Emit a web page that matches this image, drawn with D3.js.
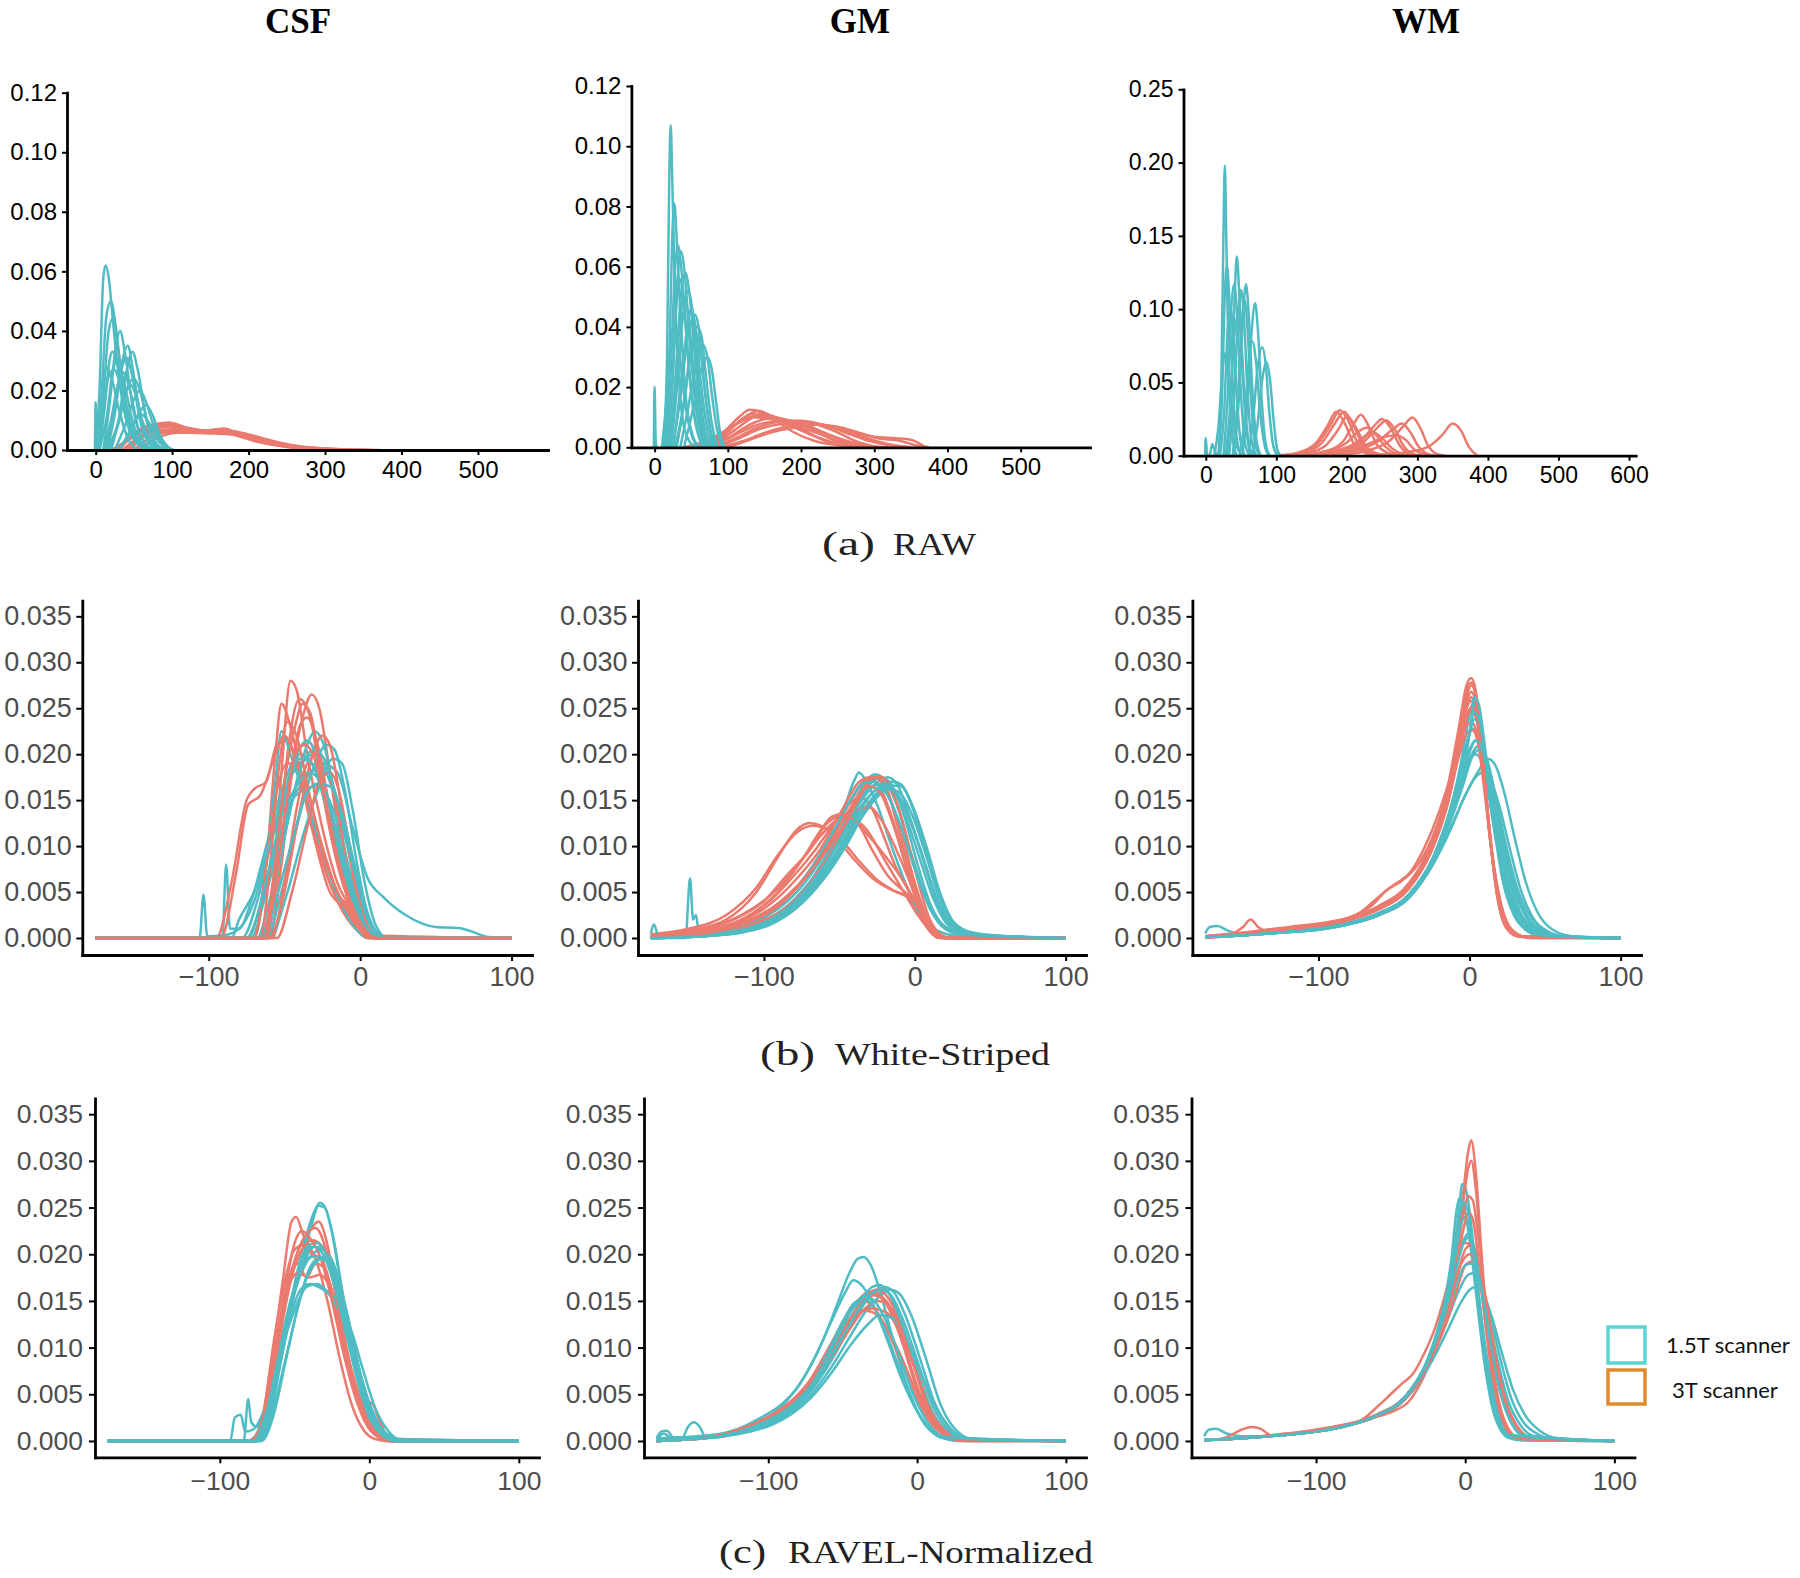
<!DOCTYPE html>
<html><head><meta charset="utf-8">
<script src="https://cdn.jsdelivr.net/npm/d3@7"></script>
<style>
html,body{margin:0;padding:0;background:#fff;}
svg{display:block;}
</style>
</head><body>
<svg id="chart" width="1800" height="1578"></svg>
<script>
// ---------------- DATA ----------------
const tissueTitles = ["CSF", "GM", "WM"];
const captionTags = ["(a)", "(b)", "(c)"];
const captionNames = ["RAW", "White-Striped", "RAVEL-Normalized"];
const legendLabels = ["1.5T scanner", "3T scanner"];

const rawXTicks = [0, 100, 200, 300, 400, 500];
const wmRawXTicks = [0, 100, 200, 300, 400, 500, 600];
const rawYTicks = [0, 0.02, 0.04, 0.06, 0.08, 0.10, 0.12];
const wmRawYTicks = [0, 0.05, 0.10, 0.15, 0.20, 0.25];
const normXTicks = [-100, 0, 100];
const normYTicks = [0, 0.005, 0.010, 0.015, 0.020, 0.025, 0.030, 0.035];

// (a) RAW — CSF
const csfRaw15T = [
 [[-1,0],[0,0.016],[1.5,0.002],[3,0]],
 [[0,0],[5,0.02],[10,0.058],[13,0.062],[17,0.058],[22,0.045],[30,0.025],[40,0.01],[55,0.002],[70,0]],
 [[2,0],[8,0.02],[14,0.045],[20,0.050],[26,0.042],[35,0.022],[48,0.006],[65,0]],
 [[3,0],[10,0.018],[17,0.04],[22,0.044],[28,0.036],[38,0.018],[52,0.004],[70,0]],
 [[10,0],[18,0.015],[26,0.034],[32,0.040],[38,0.033],[48,0.015],[62,0.003],[75,0]],
 [[15,0],[25,0.012],[35,0.030],[42,0.035],[48,0.028],[58,0.012],[72,0.002],[85,0]],
 [[20,0],[30,0.01],[40,0.026],[48,0.033],[55,0.027],[65,0.012],[78,0.002],[90,0]],
 [[5,0],[12,0.015],[18,0.03],[22,0.033],[30,0.028],[40,0.015],[55,0.003],[70,0]],
 [[5,0],[15,0.012],[22,0.026],[28,0.030],[36,0.024],[48,0.01],[60,0.002],[72,0]],
 [[25,0],[38,0.008],[50,0.017],[58,0.020],[66,0.016],[76,0.008],[88,0.002],[100,0]],
 [[10,0],[20,0.01],[30,0.023],[36,0.026],[44,0.021],[55,0.008],[68,0.001],[80,0]],
 [[30,0],[45,0.006],[58,0.013],[66,0.015],[74,0.012],[84,0.005],[95,0.001],[102,0]],
 [[2,0],[8,0.015],[14,0.028],[20,0.025],[30,0.014],[42,0.004],[55,0]],
 [[15,0],[28,0.008],[38,0.018],[45,0.022],[52,0.019],[62,0.009],[75,0.002],[88,0]],
 [[30,0],[42,0.005],[52,0.010],[60,0.012],[70,0.009],[82,0.003],[95,0]],
 [[12,0],[22,0.01],[32,0.025],[40,0.031],[47,0.026],[58,0.01],[70,0.002],[82,0]],
 [[4,0],[10,0.012],[16,0.024],[24,0.027],[32,0.022],[42,0.01],[56,0.002],[68,0]],
 [[18,0],[30,0.009],[40,0.02],[50,0.024],[58,0.02],[68,0.009],[80,0.002],[92,0]]
];
const csfRaw3T = [
 [[30,0],[50,0.005],[70,0.008],[95,0.0092],[120,0.0075],[145,0.0065],[168,0.0072],[190,0.005],[220,0.0025],[260,0.001],[300,0.0002],[340,0]],
 [[25,0],[45,0.004],[65,0.0075],[90,0.0085],[115,0.007],[140,0.0062],[165,0.0068],[195,0.0048],[230,0.002],[270,0.0008],[320,0]],
 [[35,0],[55,0.004],[75,0.007],[100,0.008],[130,0.0068],[160,0.006],[190,0.0052],[215,0.0035],[245,0.0015],[280,0.0005],[340,0]],
 [[40,0],[60,0.0045],[80,0.0065],[110,0.007],[140,0.0065],[170,0.0058],[200,0.0045],[235,0.002],[270,0.0008],[310,0.0002],[360,0]],
 [[20,0],[40,0.003],[60,0.006],[85,0.0078],[110,0.0072],[135,0.0066],[160,0.0062],[185,0.0048],[210,0.0028],[250,0.001],[300,0]],
 [[45,0],[65,0.005],[90,0.0068],[120,0.0065],[150,0.0062],[175,0.0065],[205,0.0048],[235,0.0025],[265,0.001],[300,0.0004],[360,0]],
 [[50,0],[70,0.004],[95,0.006],[125,0.0058],[155,0.0055],[185,0.005],[215,0.0038],[250,0.0018],[290,0.0006],[370,0]],
 [[30,0],[50,0.0055],[70,0.0082],[95,0.0088],[120,0.0072],[150,0.006],[175,0.0056],[205,0.004],[240,0.0016],[280,0.0005],[330,0]],
 [[55,0],[80,0.004],[105,0.0058],[135,0.006],[165,0.0062],[195,0.0055],[225,0.0035],[260,0.0015],[300,0.0005],[350,0]],
 [[35,0],[55,0.0035],[80,0.006],[105,0.0064],[135,0.006],[160,0.007],[185,0.0055],[215,0.003],[250,0.0012],[290,0.0003],[340,0]],
 [[28,0],[48,0.0048],[68,0.0078],[92,0.0082],[118,0.0068],[148,0.0058],[172,0.006],[200,0.0044],[232,0.0018],[275,0.0005],[330,0]]
];

// (a) RAW — GM
const gmRaw15T = [
 [[-1,0],[0,0.020],[1.5,0.002],[3,0]],
 [[12,0],[17,0.03],[20,0.09],[22,0.107],[24,0.09],[28,0.05],[34,0.02],[42,0.005],[55,0]],
 [[15,0],[20,0.03],[25,0.075],[27,0.081],[30,0.07],[35,0.045],[42,0.018],[52,0.004],[62,0]],
 [[15,0],[22,0.025],[28,0.06],[32,0.067],[37,0.058],[44,0.035],[52,0.014],[62,0.003],[72,0]],
 [[18,0],[25,0.025],[31,0.055],[36,0.065],[41,0.058],[48,0.035],[57,0.012],[67,0.002],[75,0]],
 [[20,0],[28,0.02],[35,0.048],[42,0.058],[48,0.05],[55,0.03],[63,0.01],[72,0]],
 [[22,0],[30,0.018],[38,0.042],[46,0.052],[52,0.045],[59,0.025],[67,0.008],[76,0]],
 [[25,0],[35,0.016],[45,0.036],[55,0.044],[60,0.04],[66,0.025],[74,0.008],[82,0]],
 [[30,0],[40,0.014],[50,0.032],[58,0.040],[64,0.037],[70,0.024],[78,0.008],[86,0]],
 [[35,0],[45,0.012],[56,0.027],[66,0.034],[72,0.030],[78,0.018],[86,0.005],[94,0]],
 [[40,0],[50,0.01],[62,0.024],[72,0.030],[78,0.026],[84,0.015],[90,0.004],[96,0]],
 [[18,0],[24,0.02],[30,0.048],[34,0.056],[40,0.048],[47,0.026],[56,0.008],[66,0]],
 [[20,0],[27,0.018],[34,0.04],[40,0.05],[46,0.044],[53,0.026],[62,0.008],[72,0]],
 [[10,0],[16,0.015],[22,0.035],[27,0.04],[33,0.033],[42,0.014],[52,0.003],[60,0]],
 [[25,0],[33,0.015],[42,0.035],[50,0.046],[56,0.04],[63,0.022],[72,0.006],[80,0]],
 [[28,0],[38,0.012],[48,0.03],[56,0.038],[62,0.034],[68,0.02],[76,0.006],[84,0]]
];
const gmRaw3T = [
 [[60,0],[90,0.004],[115,0.010],[130,0.0125],[145,0.012],[165,0.009],[190,0.005],[220,0.002],[260,0.0005],[300,0]],
 [[65,0],[95,0.004],[120,0.0095],[140,0.012],[160,0.0105],[180,0.0085],[205,0.0055],[235,0.002],[270,0.0005],[300,0]],
 [[70,0],[100,0.004],[125,0.0085],[145,0.011],[165,0.01],[190,0.0085],[215,0.006],[245,0.0025],[280,0.0006],[310,0]],
 [[50,0],[80,0.003],[110,0.0075],[135,0.010],[155,0.0095],[180,0.0085],[210,0.007],[240,0.004],[270,0.0015],[305,0]],
 [[80,0],[110,0.003],[140,0.0065],[170,0.0085],[200,0.0088],[230,0.0075],[260,0.0055],[290,0.003],[320,0.001],[350,0]],
 [[90,0],[120,0.002],[150,0.0048],[180,0.0068],[210,0.0078],[240,0.007],[270,0.005],[300,0.0035],[330,0.003],[350,0.0025],[370,0]],
 [[70,0],[100,0.003],[130,0.0075],[155,0.0095],[180,0.009],[205,0.0075],[230,0.005],[260,0.0022],[290,0.0006],[320,0]],
 [[40,0],[70,0.002],[100,0.006],[125,0.0095],[140,0.0105],[160,0.0095],[185,0.0072],[215,0.004],[250,0.0012],[290,0]],
 [[85,0],[115,0.003],[145,0.0062],[175,0.0078],[205,0.0082],[235,0.0072],[265,0.0045],[295,0.002],[325,0.0005],[350,0]],
 [[100,0],[130,0.0025],[160,0.005],[190,0.0065],[220,0.0075],[250,0.0068],[280,0.0048],[305,0.003],[335,0.0022],[360,0.0005],[375,0]],
 [[60,0],[90,0.0035],[115,0.0085],[132,0.011],[150,0.0108],[175,0.0085],[200,0.0065],[225,0.0045],[255,0.0015],[290,0]],
 [[75,0],[105,0.0035],[135,0.007],[160,0.0085],[185,0.0088],[215,0.008],[245,0.0055],[275,0.002],[305,0]]
];

// (a) RAW — WM
const wmRaw15T = [
 [[-1,0],[0,0.012],[1.5,0.002],[3,0]],
 [[6,0],[9,0.008],[12,0.004],[16,0]],
 [[18,0],[22,0.05],[25,0.15],[27,0.198],[29,0.15],[32,0.07],[37,0.015],[44,0]],
 [[18,0],[23,0.04],[27,0.11],[30,0.13],[33,0.11],[37,0.06],[43,0.015],[50,0]],
 [[25,0],[31,0.04],[36,0.10],[40,0.117],[44,0.1],[49,0.05],[55,0.01],[62,0]],
 [[30,0],[36,0.04],[41,0.11],[44,0.136],[47,0.115],[52,0.06],[58,0.015],[65,0]],
 [[33,0],[40,0.04],[46,0.095],[50,0.113],[54,0.095],[59,0.045],[65,0.01],[72,0]],
 [[40,0],[47,0.04],[53,0.098],[57,0.117],[61,0.095],[66,0.045],[72,0.01],[78,0]],
 [[38,0],[45,0.035],[51,0.09],[55,0.106],[59,0.088],[64,0.04],[70,0.008],[77,0]],
 [[52,0],[59,0.035],[65,0.085],[70,0.104],[74,0.085],[79,0.04],[85,0.008],[91,0]],
 [[48,0],[55,0.025],[61,0.065],[66,0.078],[71,0.065],[77,0.03],[84,0.006],[90,0]],
 [[60,0],[67,0.025],[74,0.062],[80,0.074],[85,0.062],[90,0.03],[96,0.006],[102,0]],
 [[66,0],[73,0.02],[80,0.052],[86,0.064],[91,0.052],[96,0.025],[101,0.005],[106,0]],
 [[20,0],[26,0.03],[31,0.085],[35,0.10],[39,0.085],[44,0.04],[50,0.008],[56,0]],
 [[28,0],[34,0.03],[40,0.08],[45,0.095],[50,0.08],[55,0.04],[61,0.008],[68,0]],
 [[12,0],[18,0.02],[24,0.06],[28,0.07],[32,0.058],[38,0.025],[45,0.005],[52,0]]
];
const wmRaw3T = [
 [[100,0],[130,0.002],[155,0.008],[172,0.02],[185,0.030],[197,0.022],[210,0.008],[225,0.002],[245,0]],
 [[105,0],[135,0.002],[160,0.009],[178,0.022],[190,0.031],[202,0.024],[215,0.009],[232,0.002],[250,0]],
 [[110,0],[140,0.002],[165,0.009],[183,0.022],[196,0.030],[208,0.022],[222,0.008],[240,0.002],[260,0]],
 [[110,0],[145,0.002],[170,0.007],[188,0.018],[200,0.027],[212,0.02],[226,0.007],[245,0.001],[265,0]],
 [[130,0],[170,0.003],[195,0.01],[210,0.022],[220,0.028],[230,0.021],[242,0.008],[258,0.002],[275,0]],
 [[130,0],[170,0.003],[200,0.009],[215,0.016],[228,0.019],[240,0.015],[255,0.006],[272,0.001],[290,0]],
 [[140,0],[180,0.003],[210,0.008],[225,0.013],[237,0.016],[250,0.012],[264,0.005],[280,0.001],[295,0]],
 [[150,0],[190,0.003],[220,0.01],[238,0.02],[250,0.025],[262,0.019],[275,0.007],[290,0.001],[305,0]],
 [[155,0],[195,0.003],[225,0.01],[243,0.019],[256,0.024],[268,0.018],[280,0.007],[295,0.001],[310,0]],
 [[160,0],[200,0.003],[235,0.009],[255,0.013],[270,0.014],[283,0.011],[296,0.004],[310,0.001],[320,0]],
 [[170,0],[210,0.003],[245,0.01],[265,0.018],[278,0.022],[290,0.016],[302,0.006],[315,0.001],[325,0]],
 [[180,0],[225,0.003],[260,0.01],[280,0.02],[293,0.026],[304,0.019],[315,0.007],[328,0.001],[340,0]],
 [[230,0],[280,0.002],[315,0.006],[335,0.014],[350,0.022],[362,0.017],[373,0.006],[385,0]]
];

// (b) White-Striped — CSF
const csfWs15T = [
 [[-175,0],[-106,0],[-103.5,0.0047],[-101,0.0002],[-90,0.0003],[-80,0.001],[-70,0.004],[-60,0.01],[-50,0.016],[-40,0.019],[-30,0.02],[-20,0.017],[-10,0.011],[0,0.004],[10,0.0008],[20,0],[100,0]],
 [[-175,0],[-91,0],[-88.5,0.008],[-86,0.001],[-80,0.001],[-72,0.004],[-62,0.01],[-52,0.016],[-42,0.02],[-35,0.0215],[-27,0.019],[-17,0.012],[-7,0.005],[3,0.001],[12,0],[100,0]],
 [[-175,0],[-75,0],[-65,0.004],[-55,0.01],[-45,0.015],[-35,0.0175],[-25,0.019],[-15,0.018],[-5,0.012],[5,0.0065],[15,0.0045],[30,0.0025],[50,0.0012],[65,0.0011],[72,0.0008],[85,0.0001],[100,0]],
 [[-175,0],[-68,0],[-60,0.004],[-50,0.011],[-42,0.017],[-35,0.021],[-30,0.0225],[-24,0.021],[-16,0.015],[-6,0.006],[4,0.001],[12,0],[100,0]],
 [[-175,0],[-70,0],[-62,0.008],[-56,0.017],[-52,0.0225],[-46,0.02],[-38,0.016],[-28,0.011],[-16,0.005],[-5,0.0015],[5,0],[100,0]],
 [[-175,0],[-62,0],[-52,0.005],[-42,0.012],[-32,0.018],[-22,0.021],[-17,0.0205],[-10,0.016],[-2,0.008],[6,0.002],[15,0],[100,0]],
 [[-175,0],[-72,0],[-62,0.005],[-52,0.011],[-45,0.015],[-38,0.016],[-30,0.0165],[-22,0.0155],[-14,0.012],[-5,0.006],[4,0.0015],[12,0],[100,0]],
 [[-175,0],[-78,0],[-68,0.004],[-58,0.011],[-48,0.017],[-40,0.02],[-32,0.019],[-22,0.014],[-12,0.008],[-2,0.003],[8,0.0005],[15,0],[100,0]],
 [[-175,0],[-60,0],[-48,0.005],[-38,0.011],[-28,0.016],[-18,0.0195],[-12,0.019],[-5,0.014],[3,0.006],[10,0.0015],[18,0],[100,0]],
 [[-175,0],[-85,0],[-80,0.002],[-70,0.005],[-60,0.01],[-50,0.014],[-40,0.017],[-34,0.018],[-26,0.017],[-16,0.012],[-6,0.006],[4,0.0015],[12,0],[100,0]],
 [[-175,0],[-66,0],[-56,0.006],[-46,0.014],[-38,0.019],[-30,0.0205],[-24,0.0195],[-15,0.015],[-5,0.008],[5,0.002],[13,0],[100,0]],
 [[-175,0],[-74,0],[-64,0.005],[-54,0.012],[-46,0.0175],[-40,0.0195],[-33,0.0192],[-25,0.0168],[-15,0.011],[-5,0.0048],[5,0.001],[14,0],[100,0]],
 [[-175,0],[-64,0],[-55,0.0045],[-45,0.0105],[-36,0.0155],[-28,0.0168],[-20,0.0165],[-11,0.013],[-2,0.0068],[7,0.0018],[16,0],[100,0]]
];
const csfWs3T = [
 [[-175,0],[-65,0],[-58,0.005],[-52,0.018],[-46,0.028],[-42,0.027],[-35,0.02],[-25,0.012],[-15,0.006],[-5,0.003],[3,0.0005],[10,0],[100,0]],
 [[-175,0],[-60,0],[-52,0.008],[-45,0.018],[-38,0.024],[-32,0.0265],[-27,0.025],[-20,0.018],[-12,0.009],[-4,0.002],[5,0],[100,0]],
 [[-175,0],[-62,0],[-55,0.008],[-48,0.02],[-40,0.026],[-33,0.024],[-25,0.016],[-15,0.008],[-5,0.003],[5,0.0003],[100,0]],
 [[-175,0],[-70,0],[-62,0.008],[-56,0.02],[-52,0.0255],[-46,0.023],[-38,0.017],[-28,0.01],[-15,0.004],[-3,0.001],[8,0],[100,0]],
 [[-175,0],[-95,0],[-85,0.006],[-75,0.015],[-70,0.0162],[-62,0.017],[-55,0.021],[-48,0.0215],[-40,0.018],[-30,0.012],[-20,0.006],[-8,0.0035],[0,0.0015],[10,0],[100,0]],
 [[-175,0],[-92,0],[-82,0.007],[-74,0.0145],[-66,0.0155],[-58,0.019],[-50,0.022],[-42,0.019],[-32,0.012],[-20,0.005],[-8,0.003],[2,0.001],[10,0],[100,0]],
 [[-175,0],[-62,0],[-55,0.006],[-47,0.016],[-40,0.023],[-35,0.024],[-28,0.021],[-20,0.014],[-10,0.006],[0,0.0015],[8,0],[100,0]],
 [[-175,0],[-58,0],[-50,0.006],[-42,0.014],[-35,0.019],[-28,0.020],[-22,0.019],[-15,0.014],[-7,0.006],[2,0.001],[10,0],[100,0]],
 [[-175,0],[-70,0],[-62,0.008],[-55,0.016],[-48,0.019],[-42,0.019],[-35,0.016],[-25,0.01],[-15,0.005],[-5,0.0025],[5,0],[100,0]],
 [[-175,0],[-60,0],[-50,0.005],[-42,0.012],[-33,0.019],[-25,0.022],[-20,0.021],[-13,0.015],[-5,0.007],[3,0.0015],[12,0],[100,0]],
 [[-175,0],[-55,0],[-45,0.005],[-35,0.012],[-27,0.017],[-20,0.018],[-14,0.016],[-8,0.011],[-1,0.005],[6,0.001],[14,0],[100,0]],
 [[-175,0],[-66,0],[-60,0.007],[-54,0.018],[-48,0.0235],[-42,0.022],[-34,0.016],[-24,0.009],[-12,0.004],[0,0.0008],[8,0],[100,0]],
 [[-175,0],[-64,0],[-57,0.007],[-50,0.017],[-43,0.023],[-38,0.0255],[-33,0.0245],[-26,0.018],[-17,0.01],[-8,0.0042],[1,0.0008],[9,0],[100,0]],
 [[-175,0],[-63,0],[-56,0.006],[-48,0.0155],[-42,0.0205],[-36,0.021],[-30,0.0195],[-22,0.014],[-13,0.0075],[-4,0.003],[5,0.0004],[12,0],[100,0]]
];

// (b) White-Striped — GM
const gmWs15T = [
 [[-175,0],[-152,0],[-149,0.0065],[-147,0.002],[-145,0.0025],[-143,0.0003],[-130,0.0005],[-110,0.0012],[-90,0.0028],[-72,0.0055],[-58,0.0092],[-46,0.0128],[-38,0.0155],[-32,0.0172],[-26,0.0178],[-20,0.0172],[-12,0.0145],[-2,0.009],[8,0.0042],[18,0.0015],[30,0.0006],[50,0.0002],[100,0]],
 [[-175,0.0005],[-173,0.0015],[-170,0.0003],[-150,0.0003],[-125,0.0008],[-105,0.0018],[-88,0.0035],[-72,0.0062],[-58,0.0098],[-48,0.0135],[-40,0.0172],[-37,0.018],[-32,0.017],[-25,0.0145],[-15,0.0098],[-5,0.0055],[5,0.0022],[15,0.0008],[30,0.0002],[100,0]],
 [[-175,0],[-140,0.0003],[-115,0.0009],[-95,0.0022],[-78,0.0045],[-62,0.0078],[-48,0.0115],[-36,0.015],[-26,0.0168],[-18,0.0175],[-12,0.0168],[-4,0.0135],[5,0.0088],[14,0.0042],[22,0.0015],[32,0.0006],[50,0.0002],[100,0]],
 [[-175,0],[-140,0.0002],[-115,0.0007],[-95,0.0018],[-78,0.0038],[-62,0.0068],[-48,0.0102],[-36,0.0135],[-25,0.0158],[-16,0.017],[-10,0.0168],[-2,0.0145],[6,0.0102],[15,0.005],[24,0.0018],[35,0.0006],[55,0.0002],[100,0]],
 [[-175,0],[-140,0.0002],[-115,0.0006],[-95,0.0015],[-78,0.0033],[-60,0.0065],[-45,0.0102],[-32,0.014],[-22,0.0162],[-14,0.017],[-8,0.0165],[0,0.0135],[9,0.0085],[18,0.0038],[27,0.0013],[40,0.0004],[60,0.0001],[100,0]],
 [[-175,0],[-140,0.0003],[-112,0.0009],[-92,0.0022],[-75,0.0045],[-60,0.008],[-46,0.0122],[-35,0.0155],[-27,0.0172],[-22,0.0175],[-16,0.0168],[-8,0.0138],[1,0.0085],[10,0.0038],[20,0.0012],[32,0.0004],[100,0]],
 [[-175,0],[-140,0.0002],[-115,0.0008],[-95,0.002],[-78,0.004],[-62,0.0072],[-50,0.0105],[-38,0.0138],[-28,0.0158],[-20,0.0165],[-13,0.016],[-5,0.0135],[4,0.0095],[13,0.005],[22,0.0018],[32,0.0007],[50,0.0002],[100,0]],
 [[-175,0],[-140,0.0002],[-115,0.0007],[-95,0.0017],[-78,0.0036],[-62,0.0066],[-48,0.0102],[-36,0.0135],[-26,0.0155],[-17,0.0162],[-10,0.0158],[-2,0.0135],[7,0.0092],[16,0.0045],[25,0.0016],[36,0.0006],[55,0.0002],[100,0]],
 [[-175,0],[-145,0.0004],[-118,0.0012],[-98,0.0026],[-80,0.0052],[-64,0.0088],[-52,0.0122],[-42,0.0152],[-35,0.0168],[-28,0.017],[-20,0.016],[-10,0.0125],[0,0.0075],[10,0.0032],[20,0.001],[32,0.0003],[100,0]],
 [[-175,0],[-140,0.0003],[-115,0.0009],[-95,0.0021],[-78,0.0042],[-62,0.0074],[-48,0.0112],[-36,0.0148],[-26,0.0166],[-19,0.0168],[-12,0.0158],[-3,0.0128],[6,0.0085],[15,0.004],[24,0.0014],[35,0.0005],[100,0]],
 [[-175,0],[-140,0.0002],[-115,0.0006],[-95,0.0016],[-78,0.0034],[-62,0.0064],[-48,0.0098],[-35,0.0132],[-24,0.0155],[-15,0.0166],[-9,0.0165],[-1,0.0142],[8,0.0098],[17,0.0048],[26,0.0017],[38,0.0006],[60,0.0002],[100,0]],
 [[-175,0],[-140,0.0002],[-115,0.0007],[-95,0.0017],[-78,0.0037],[-62,0.0068],[-48,0.0105],[-36,0.014],[-27,0.016],[-21,0.0166],[-14,0.016],[-6,0.0132],[3,0.0088],[12,0.0044],[21,0.0016],[32,0.0006],[50,0.0002],[100,0]]
];
const gmWs3T = [
 [[-175,0.0003],[-150,0.0008],[-125,0.002],[-105,0.005],[-90,0.009],[-78,0.0118],[-70,0.0125],[-62,0.0122],[-52,0.0108],[-40,0.0085],[-28,0.0065],[-15,0.0052],[-5,0.0045],[2,0.003],[10,0.0008],[18,0],[100,0]],
 [[-175,0.0004],[-150,0.001],[-125,0.0025],[-105,0.0055],[-90,0.0092],[-78,0.0115],[-68,0.0122],[-60,0.012],[-48,0.0105],[-36,0.0082],[-24,0.0062],[-12,0.005],[-3,0.0042],[5,0.002],[12,0.0004],[20,0],[100,0]],
 [[-175,0.0002],[-145,0.0008],[-120,0.002],[-100,0.004],[-85,0.0068],[-70,0.0095],[-58,0.0125],[-50,0.0132],[-42,0.013],[-32,0.0118],[-20,0.0085],[-8,0.0052],[2,0.0025],[12,0.0005],[20,0],[100,0]],
 [[-175,0.0002],[-140,0.0006],[-115,0.0018],[-95,0.0038],[-78,0.0065],[-62,0.0098],[-48,0.014],[-38,0.0168],[-30,0.0175],[-22,0.016],[-12,0.0115],[-2,0.0055],[8,0.0015],[16,0.0002],[22,0],[100,0]],
 [[-175,0.0001],[-140,0.0005],[-110,0.0015],[-90,0.0035],[-72,0.0068],[-55,0.0112],[-42,0.015],[-33,0.0172],[-27,0.0175],[-20,0.0165],[-10,0.0122],[0,0.006],[10,0.0015],[18,0.0002],[25,0],[100,0]],
 [[-175,0.0002],[-145,0.0007],[-115,0.002],[-95,0.0042],[-80,0.0068],[-65,0.0098],[-52,0.0128],[-42,0.0148],[-35,0.0152],[-28,0.014],[-20,0.0108],[-12,0.0075],[-5,0.0055],[3,0.003],[12,0.0006],[20,0],[100,0]],
 [[-175,0.0001],[-140,0.0004],[-110,0.0014],[-88,0.003],[-70,0.0058],[-55,0.0095],[-45,0.0125],[-38,0.0148],[-32,0.0168],[-26,0.0175],[-20,0.0168],[-12,0.0125],[-3,0.007],[7,0.002],[15,0.0003],[22,0],[100,0]],
 [[-175,0.0003],[-145,0.0009],[-115,0.0025],[-92,0.0052],[-75,0.0085],[-62,0.0112],[-52,0.0128],[-44,0.0132],[-38,0.0125],[-28,0.0095],[-18,0.0068],[-8,0.0052],[0,0.004],[8,0.0012],[16,0],[100,0]],
 [[-175,0.0001],[-140,0.0004],[-110,0.0012],[-85,0.0032],[-68,0.0062],[-52,0.0105],[-40,0.0145],[-30,0.017],[-24,0.0176],[-18,0.017],[-10,0.0138],[0,0.0075],[10,0.002],[18,0.0003],[25,0],[100,0]],
 [[-175,0.0002],[-140,0.0006],[-112,0.0018],[-92,0.0036],[-75,0.0062],[-60,0.0092],[-48,0.012],[-38,0.014],[-30,0.0142],[-22,0.0128],[-12,0.0095],[-3,0.006],[6,0.0022],[15,0.0004],[22,0],[100,0]],
 [[-175,0.0002],[-140,0.0007],[-112,0.0022],[-92,0.0048],[-76,0.0082],[-62,0.0118],[-55,0.0132],[-48,0.0135],[-40,0.0128],[-30,0.011],[-20,0.009],[-10,0.0068],[0,0.004],[10,0.001],[18,0],[100,0]],
 [[-175,0.0001],[-140,0.0005],[-112,0.0016],[-90,0.0036],[-72,0.0066],[-56,0.0105],[-44,0.0138],[-36,0.0158],[-30,0.0165],[-23,0.0158],[-14,0.0122],[-4,0.0068],[6,0.0022],[15,0.0004],[22,0],[100,0]]
];

// (b) White-Striped — WM
const wmWs15T = [
 [[-175,0.0005],[-172,0.0012],[-167,0.0013],[-160,0.0008],[-150,0.0004],[-125,0.0006],[-100,0.001],[-80,0.0016],[-60,0.0027],[-40,0.0048],[-25,0.0085],[-15,0.0128],[-7,0.0168],[-1,0.0192],[4,0.02],[10,0.0185],[16,0.0148],[23,0.0095],[30,0.005],[38,0.0022],[48,0.0008],[60,0.0002],[75,0],[100,0]],
 [[-175,0.0001],[-150,0.0003],[-125,0.0006],[-100,0.001],[-80,0.0016],[-60,0.0026],[-40,0.0046],[-25,0.0082],[-15,0.0125],[-6,0.018],[-1,0.0218],[2,0.0228],[6,0.0215],[12,0.0162],[18,0.0102],[25,0.0052],[32,0.0022],[40,0.0008],[52,0.0002],[100,0]],
 [[-175,0.0001],[-150,0.0003],[-125,0.0006],[-100,0.001],[-80,0.0016],[-60,0.0027],[-40,0.0047],[-25,0.0083],[-15,0.0128],[-6,0.0188],[-1,0.0235],[2,0.0255],[5,0.0248],[10,0.0195],[16,0.0122],[22,0.0062],[29,0.0026],[37,0.0009],[48,0.0002],[100,0]],
 [[-175,0.0001],[-150,0.0003],[-125,0.0006],[-100,0.0009],[-80,0.0015],[-60,0.0025],[-40,0.0045],[-25,0.0078],[-12,0.012],[-3,0.0155],[4,0.0175],[9,0.018],[14,0.0172],[20,0.0142],[27,0.0095],[34,0.0052],[42,0.0022],[52,0.0007],[65,0.0001],[100,0]],
 [[-175,0.0001],[-150,0.0003],[-125,0.0006],[-100,0.001],[-80,0.0016],[-60,0.0026],[-40,0.0046],[-25,0.0082],[-14,0.0125],[-5,0.0168],[1,0.0198],[5,0.0208],[10,0.0198],[16,0.0158],[23,0.0102],[30,0.0055],[38,0.0024],[47,0.0008],[58,0.0002],[100,0]],
 [[-175,0.0001],[-150,0.0003],[-125,0.0006],[-100,0.0009],[-80,0.0015],[-60,0.0025],[-40,0.0044],[-25,0.0078],[-12,0.0122],[-2,0.0158],[6,0.0182],[12,0.0195],[17,0.0188],[23,0.0158],[30,0.0108],[37,0.0062],[45,0.0028],[55,0.0009],[68,0.0002],[100,0]],
 [[-175,0.0001],[-150,0.0003],[-125,0.0006],[-100,0.001],[-80,0.0016],[-60,0.0027],[-40,0.0047],[-25,0.0084],[-14,0.013],[-5,0.0185],[0,0.0222],[3,0.0238],[7,0.0228],[12,0.0178],[18,0.0115],[25,0.006],[32,0.0027],[40,0.001],[52,0.0002],[100,0]],
 [[-175,0.0001],[-150,0.0003],[-125,0.0006],[-100,0.001],[-80,0.0016],[-60,0.0027],[-40,0.0047],[-25,0.0082],[-14,0.0125],[-5,0.0172],[0,0.0202],[4,0.0215],[8,0.021],[14,0.0172],[21,0.0112],[28,0.0062],[36,0.0028],[45,0.001],[56,0.0002],[100,0]],
 [[-175,0.0001],[-150,0.0003],[-125,0.0006],[-100,0.001],[-80,0.0015],[-60,0.0025],[-40,0.0044],[-25,0.008],[-14,0.0125],[-5,0.018],[0,0.0225],[3,0.0245],[6,0.024],[11,0.019],[17,0.0125],[24,0.0068],[31,0.0032],[40,0.0012],[52,0.0003],[100,0]],
 [[-175,0.0001],[-150,0.0003],[-125,0.0006],[-100,0.001],[-80,0.0016],[-60,0.0026],[-40,0.0046],[-25,0.0082],[-13,0.013],[-4,0.0182],[1,0.0235],[3,0.0262],[6,0.0255],[10,0.021],[15,0.0142],[21,0.0078],[28,0.0035],[36,0.0012],[47,0.0003],[100,0]],
 [[-175,0.0001],[-150,0.0003],[-125,0.0006],[-100,0.0009],[-80,0.0015],[-60,0.0025],[-40,0.0045],[-25,0.008],[-13,0.0125],[-4,0.0168],[2,0.0198],[7,0.0205],[12,0.0192],[18,0.0148],[25,0.0095],[32,0.0052],[40,0.0024],[50,0.0008],[62,0.0002],[100,0]],
 [[-175,0.0001],[-150,0.0003],[-125,0.0006],[-100,0.001],[-80,0.0016],[-60,0.0026],[-40,0.0046],[-25,0.0082],[-14,0.0128],[-5,0.0175],[0,0.0205],[4,0.0215],[8,0.0208],[13,0.0172],[19,0.0115],[26,0.0065],[33,0.003],[42,0.0011],[54,0.0002],[100,0]]
];
const wmWs3T = [
 [[-175,0.0002],[-150,0.0006],[-125,0.0011],[-100,0.0015],[-80,0.0022],[-60,0.0035],[-40,0.006],[-25,0.0105],[-15,0.016],[-7,0.023],[-2,0.0275],[1,0.0283],[4,0.027],[8,0.021],[13,0.012],[18,0.005],[24,0.0012],[32,0.0002],[45,0],[100,0]],
 [[-175,0],[-160,0.0003],[-150,0.0012],[-145,0.002],[-140,0.0012],[-135,0.0008],[-115,0.0013],[-95,0.0017],[-75,0.0025],[-60,0.0045],[-50,0.0058],[-40,0.007],[-30,0.0098],[-20,0.0138],[-10,0.0192],[-3,0.0245],[1,0.0262],[5,0.024],[10,0.017],[15,0.009],[21,0.0032],[28,0.0008],[40,0],[100,0]],
 [[-175,0.0002],[-150,0.0005],[-125,0.001],[-100,0.0014],[-80,0.0022],[-65,0.0035],[-55,0.0052],[-45,0.0062],[-35,0.0078],[-25,0.0108],[-15,0.0155],[-7,0.021],[-2,0.025],[1,0.0258],[4,0.0245],[9,0.0185],[14,0.01],[20,0.004],[27,0.001],[38,0.0001],[100,0]],
 [[-175,0.0001],[-150,0.0004],[-125,0.0009],[-100,0.0013],[-80,0.002],[-60,0.0032],[-40,0.0055],[-25,0.0098],[-15,0.0148],[-7,0.021],[-2,0.0255],[1,0.0268],[4,0.0258],[8,0.0205],[13,0.0118],[18,0.005],[24,0.0013],[32,0.0002],[100,0]],
 [[-175,0.0001],[-150,0.0003],[-125,0.0008],[-100,0.0012],[-80,0.0019],[-60,0.0031],[-40,0.0054],[-25,0.0095],[-15,0.0142],[-7,0.02],[-2,0.0238],[1,0.0248],[5,0.0235],[9,0.018],[14,0.0102],[19,0.0045],[25,0.0012],[34,0.0002],[100,0]],
 [[-175,0.0002],[-150,0.0005],[-125,0.001],[-100,0.0014],[-80,0.0021],[-60,0.0034],[-40,0.0058],[-25,0.0102],[-15,0.0152],[-8,0.0198],[-3,0.0228],[1,0.0235],[5,0.0222],[10,0.0165],[15,0.009],[21,0.0035],[28,0.0008],[38,0.0001],[100,0]],
 [[-175,0.0001],[-150,0.0004],[-125,0.0009],[-100,0.0013],[-80,0.002],[-60,0.0033],[-40,0.0057],[-25,0.0101],[-15,0.0152],[-7,0.0218],[-2,0.0262],[1,0.0275],[4,0.0265],[8,0.021],[13,0.0122],[18,0.0052],[24,0.0014],[32,0.0002],[100,0]],
 [[-175,0.0002],[-150,0.0005],[-125,0.001],[-100,0.0014],[-80,0.0021],[-60,0.0034],[-40,0.0058],[-25,0.0104],[-15,0.0156],[-7,0.0222],[-2,0.0268],[1,0.0278],[4,0.0266],[8,0.0208],[13,0.0118],[18,0.0048],[24,0.0012],[32,0.0002],[100,0]],
 [[-175,0.0001],[-150,0.0004],[-125,0.0009],[-100,0.0013],[-80,0.002],[-60,0.0032],[-40,0.0056],[-25,0.0099],[-15,0.0147],[-7,0.0205],[-2,0.0242],[2,0.0252],[5,0.024],[9,0.0185],[14,0.0106],[19,0.0046],[25,0.0012],[34,0.0002],[100,0]],
 [[-175,0.0002],[-150,0.0005],[-125,0.001],[-100,0.0014],[-80,0.0021],[-60,0.0034],[-40,0.0057],[-25,0.01],[-15,0.015],[-7,0.0198],[-2,0.0222],[2,0.0226],[6,0.0208],[10,0.0158],[15,0.009],[21,0.0036],[28,0.0009],[38,0.0001],[100,0]]
];

// (c) RAVEL-Normalized — CSF
const csfRavel15T = [
 [[-175,0],[-93,0],[-90,0.0025],[-86,0.0028],[-83,0.001],[-78,0.0012],[-70,0.0035],[-62,0.0085],[-54,0.0138],[-46,0.0178],[-38,0.02],[-31,0.0205],[-24,0.019],[-16,0.0142],[-8,0.0085],[0,0.0038],[8,0.0012],[16,0.0003],[25,0],[100,0]],
 [[-175,0],[-84,0],[-81,0.0045],[-79,0.002],[-75,0.0015],[-68,0.0045],[-60,0.01],[-52,0.0155],[-44,0.019],[-37,0.0208],[-30,0.0205],[-22,0.0175],[-14,0.0125],[-6,0.0072],[2,0.0032],[10,0.001],[18,0.0002],[100,0]],
 [[-175,0],[-75,0],[-67,0.003],[-58,0.01],[-50,0.0168],[-43,0.0215],[-37,0.0245],[-33,0.0255],[-29,0.0248],[-24,0.0215],[-17,0.0145],[-9,0.0075],[-1,0.0028],[7,0.0008],[15,0],[100,0]],
 [[-175,0],[-74,0],[-66,0.003],[-58,0.0095],[-50,0.016],[-43,0.0205],[-38,0.0235],[-34,0.0252],[-30,0.025],[-25,0.0225],[-18,0.016],[-10,0.0088],[-2,0.0035],[6,0.001],[14,0],[100,0]],
 [[-175,0],[-80,0],[-72,0.002],[-64,0.0065],[-56,0.0112],[-48,0.0148],[-42,0.0165],[-35,0.0168],[-28,0.016],[-20,0.0148],[-12,0.0118],[-4,0.0075],[4,0.0035],[12,0.0012],[20,0.0002],[100,0]],
 [[-175,0],[-78,0],[-70,0.0025],[-62,0.0078],[-54,0.0128],[-46,0.0162],[-40,0.0168],[-34,0.0165],[-26,0.0155],[-18,0.013],[-10,0.0092],[-2,0.005],[6,0.0018],[14,0.0005],[22,0],[100,0]],
 [[-175,0],[-76,0],[-68,0.003],[-60,0.009],[-52,0.0148],[-45,0.0188],[-40,0.021],[-35,0.0212],[-29,0.02],[-21,0.016],[-13,0.0105],[-5,0.0055],[3,0.0022],[11,0.0006],[20,0],[100,0]],
 [[-175,0],[-75,0],[-67,0.003],[-58,0.0095],[-50,0.0158],[-42,0.0195],[-35,0.0198],[-28,0.0192],[-20,0.016],[-12,0.011],[-4,0.0058],[4,0.0022],[12,0.0006],[20,0],[100,0]],
 [[-175,0],[-73,0],[-65,0.003],[-56,0.0088],[-47,0.0148],[-40,0.0185],[-34,0.0195],[-28,0.0192],[-21,0.0168],[-13,0.012],[-5,0.0065],[3,0.0025],[11,0.0007],[19,0],[100,0]],
 [[-175,0],[-77,0],[-69,0.003],[-61,0.0088],[-53,0.0145],[-46,0.0185],[-41,0.0205],[-37,0.0208],[-31,0.02],[-24,0.017],[-16,0.0118],[-8,0.0065],[0,0.0025],[8,0.0007],[17,0],[100,0]],
 [[-175,0],[-72,0],[-64,0.0028],[-56,0.0085],[-48,0.0142],[-41,0.0178],[-35,0.0192],[-29,0.0198],[-23,0.0185],[-15,0.0138],[-7,0.0078],[1,0.0032],[9,0.0009],[18,0],[100,0]]
];
const csfRavel3T = [
 [[-175,0],[-82,0],[-74,0.001],[-66,0.008],[-58,0.017],[-52,0.0235],[-49,0.024],[-44,0.022],[-36,0.0195],[-28,0.015],[-20,0.009],[-12,0.004],[-4,0.0012],[4,0.0002],[12,0],[100,0]],
 [[-175,0],[-78,0],[-70,0.002],[-62,0.01],[-54,0.017],[-46,0.021],[-40,0.0225],[-34,0.0235],[-28,0.021],[-20,0.013],[-12,0.0065],[-4,0.0025],[4,0.0008],[12,0],[100,0]],
 [[-175,0],[-78,0],[-70,0.002],[-62,0.01],[-55,0.0168],[-48,0.019],[-42,0.0175],[-36,0.019],[-30,0.0185],[-22,0.014],[-14,0.0085],[-6,0.0045],[2,0.004],[6,0.0025],[12,0.0005],[18,0],[100,0]],
 [[-175,0],[-80,0],[-72,0.002],[-64,0.0105],[-57,0.0168],[-50,0.0205],[-44,0.021],[-38,0.02],[-32,0.0195],[-25,0.016],[-16,0.0095],[-8,0.0045],[0,0.0015],[8,0.0003],[15,0],[100,0]],
 [[-175,0],[-76,0],[-68,0.003],[-60,0.011],[-52,0.0175],[-45,0.0205],[-38,0.0215],[-30,0.0205],[-22,0.0155],[-14,0.009],[-6,0.0045],[2,0.0012],[10,0.0002],[16,0],[100,0]],
 [[-175,0],[-80,0],[-72,0.002],[-64,0.009],[-56,0.0155],[-48,0.018],[-40,0.0175],[-33,0.0178],[-26,0.0162],[-18,0.011],[-10,0.006],[-2,0.0028],[6,0.0008],[14,0],[100,0]],
 [[-175,0],[-78,0],[-70,0.002],[-62,0.0095],[-55,0.016],[-48,0.0202],[-42,0.0222],[-36,0.0228],[-29,0.0205],[-21,0.0145],[-13,0.0082],[-5,0.0035],[3,0.001],[11,0],[100,0]],
 [[-175,0],[-79,0],[-71,0.002],[-63,0.0098],[-56,0.0165],[-50,0.0212],[-45,0.0225],[-40,0.0218],[-33,0.0198],[-25,0.015],[-17,0.0092],[-9,0.0045],[-1,0.0015],[7,0.0003],[14,0],[100,0]]
];

// (c) RAVEL-Normalized — GM
const gmRavel15T = [
 [[-175,0.0003],[-172,0.001],[-168,0.0011],[-164,0.0004],[-158,0.0003],[-154,0.0015],[-150,0.002],[-146,0.0015],[-142,0.0004],[-130,0.0006],[-112,0.0015],[-100,0.0025],[-88,0.0042],[-76,0.0068],[-64,0.0105],[-54,0.0145],[-46,0.0178],[-40,0.0195],[-36,0.0197],[-31,0.0188],[-24,0.0155],[-15,0.0102],[-5,0.0052],[5,0.0018],[15,0.0005],[28,0],[100,0]],
 [[-175,0.0003],[-160,0.0004],[-140,0.0006],[-120,0.0013],[-105,0.0025],[-92,0.0038],[-80,0.0058],[-68,0.0092],[-57,0.013],[-48,0.016],[-43,0.0172],[-38,0.0168],[-30,0.0148],[-20,0.0108],[-10,0.0065],[0,0.0032],[10,0.0011],[22,0.0002],[100,0]],
 [[-175,0],[-150,0.0002],[-130,0.0005],[-112,0.0012],[-98,0.002],[-85,0.0032],[-72,0.0052],[-58,0.0085],[-45,0.0122],[-35,0.0148],[-27,0.0162],[-22,0.0165],[-16,0.016],[-8,0.0135],[2,0.0088],[12,0.004],[22,0.0014],[35,0.0002],[100,0]],
 [[-175,0],[-150,0.0002],[-130,0.0005],[-112,0.0011],[-98,0.0018],[-85,0.003],[-72,0.0048],[-58,0.0078],[-45,0.0112],[-34,0.014],[-25,0.0155],[-18,0.0162],[-12,0.0158],[-4,0.0135],[6,0.0088],[16,0.0038],[26,0.0012],[38,0.0002],[100,0]],
 [[-175,0],[-150,0.0002],[-130,0.0006],[-112,0.0014],[-98,0.0024],[-85,0.0038],[-72,0.006],[-60,0.0095],[-50,0.0128],[-42,0.0148],[-36,0.0152],[-30,0.0145],[-22,0.012],[-12,0.0078],[-2,0.0038],[8,0.0013],[18,0.0003],[100,0]],
 [[-175,0],[-150,0.0002],[-130,0.0006],[-112,0.0013],[-98,0.0022],[-85,0.0035],[-72,0.0055],[-60,0.0085],[-48,0.0122],[-38,0.015],[-30,0.0165],[-25,0.0167],[-19,0.0158],[-10,0.0125],[0,0.0075],[10,0.0032],[20,0.001],[32,0.0001],[100,0]],
 [[-175,0],[-150,0.0002],[-130,0.0005],[-112,0.001],[-98,0.0017],[-85,0.0028],[-72,0.0045],[-58,0.0072],[-45,0.0102],[-33,0.0125],[-25,0.0135],[-17,0.0132],[-8,0.0112],[2,0.0075],[12,0.0038],[22,0.0014],[34,0.0003],[100,0]],
 [[-175,0.0002],[-170,0.0008],[-165,0.0003],[-150,0.0003],[-130,0.0006],[-112,0.0014],[-98,0.0024],[-85,0.0037],[-72,0.0058],[-60,0.009],[-50,0.0122],[-42,0.0145],[-36,0.0155],[-30,0.0152],[-22,0.0132],[-12,0.0092],[-2,0.0048],[8,0.0018],[20,0.0004],[100,0]],
 [[-175,0],[-150,0.0002],[-130,0.0006],[-112,0.0013],[-98,0.0022],[-85,0.0034],[-72,0.0054],[-59,0.0086],[-47,0.012],[-37,0.0146],[-29,0.016],[-23,0.0162],[-17,0.0155],[-9,0.0128],[1,0.0082],[11,0.0036],[21,0.0012],[33,0.0002],[100,0]]
];
const gmRavel3T = [
 [[-175,0],[-155,0.0002],[-135,0.0006],[-115,0.0015],[-100,0.0025],[-88,0.0038],[-75,0.0058],[-62,0.009],[-50,0.0125],[-40,0.015],[-32,0.016],[-26,0.0158],[-18,0.014],[-8,0.0098],[2,0.005],[12,0.0018],[22,0.0005],[35,0],[100,0]],
 [[-175,0],[-150,0.0003],[-130,0.0008],[-112,0.0018],[-98,0.0028],[-85,0.0042],[-72,0.0065],[-60,0.0098],[-48,0.0132],[-38,0.0152],[-30,0.0158],[-22,0.015],[-12,0.0115],[-2,0.0065],[8,0.0025],[18,0.0007],[30,0.0001],[100,0]],
 [[-175,0],[-150,0.0002],[-130,0.0007],[-112,0.0016],[-98,0.0026],[-85,0.004],[-72,0.0062],[-60,0.0092],[-48,0.0125],[-38,0.014],[-30,0.0138],[-22,0.0125],[-12,0.0095],[-2,0.0058],[8,0.0025],[18,0.0008],[30,0.0001],[100,0]],
 [[-175,0],[-150,0.0002],[-130,0.0006],[-112,0.0015],[-98,0.0025],[-85,0.0038],[-72,0.0058],[-58,0.0088],[-46,0.0118],[-35,0.0142],[-26,0.015],[-19,0.0145],[-10,0.0122],[0,0.0078],[10,0.0032],[20,0.001],[32,0.0001],[100,0]],
 [[-175,0],[-150,0.0002],[-130,0.0007],[-112,0.0017],[-98,0.0027],[-85,0.0041],[-72,0.0064],[-60,0.0095],[-50,0.0125],[-42,0.0145],[-36,0.015],[-30,0.0145],[-20,0.0118],[-10,0.0082],[0,0.0045],[10,0.0018],[20,0.0005],[32,0],[100,0]],
 [[-175,0],[-150,0.0002],[-130,0.0006],[-112,0.0015],[-98,0.0025],[-84,0.0039],[-70,0.006],[-57,0.0092],[-45,0.0128],[-35,0.0152],[-28,0.0162],[-22,0.0158],[-14,0.0138],[-4,0.0092],[6,0.0042],[16,0.0013],[28,0.0002],[100,0]],
 [[-175,0],[-150,0.0002],[-130,0.0007],[-112,0.0016],[-98,0.0027],[-85,0.004],[-72,0.0061],[-60,0.0091],[-48,0.0122],[-38,0.0138],[-30,0.0142],[-21,0.0138],[-11,0.0115],[-1,0.0075],[9,0.0032],[19,0.001],[30,0.0001],[100,0]],
 [[-175,0],[-150,0.0002],[-130,0.0006],[-112,0.0015],[-98,0.0025],[-85,0.0039],[-72,0.006],[-59,0.0092],[-47,0.0126],[-37,0.0148],[-29,0.0156],[-22,0.0152],[-13,0.0128],[-3,0.0084],[7,0.0036],[17,0.0011],[29,0.0001],[100,0]]
];

// (c) RAVEL-Normalized — WM
const wmRavel15T = [
 [[-175,0.0005],[-172,0.0012],[-167,0.0013],[-160,0.0008],[-150,0.0005],[-125,0.0006],[-100,0.001],[-80,0.0016],[-60,0.0026],[-40,0.0046],[-25,0.0085],[-15,0.0135],[-8,0.0195],[-4,0.025],[-2,0.0275],[0,0.0272],[3,0.0245],[7,0.0182],[12,0.0102],[17,0.0045],[23,0.0014],[30,0.0003],[100,0]],
 [[-175,0.0001],[-150,0.0003],[-125,0.0006],[-100,0.001],[-80,0.0016],[-60,0.0027],[-40,0.0048],[-25,0.0088],[-15,0.0142],[-9,0.0198],[-6,0.0245],[-4,0.026],[-1,0.0252],[3,0.0215],[8,0.0148],[13,0.0082],[19,0.0032],[26,0.0009],[35,0.0001],[100,0]],
 [[-175,0.0001],[-150,0.0003],[-125,0.0006],[-100,0.001],[-80,0.0016],[-60,0.0026],[-40,0.0046],[-25,0.0084],[-14,0.0135],[-6,0.0188],[-1,0.0215],[2,0.0222],[6,0.0208],[11,0.0165],[17,0.0105],[24,0.005],[31,0.002],[40,0.0005],[100,0]],
 [[-175,0.0001],[-150,0.0003],[-125,0.0006],[-100,0.001],[-80,0.0016],[-60,0.0026],[-40,0.0045],[-25,0.0078],[-12,0.0118],[-3,0.0148],[3,0.0162],[7,0.0165],[12,0.0158],[18,0.0132],[25,0.0092],[32,0.0055],[40,0.0028],[50,0.0011],[62,0.0003],[100,0]],
 [[-175,0.0001],[-150,0.0003],[-125,0.0006],[-100,0.001],[-80,0.0016],[-60,0.0026],[-40,0.0046],[-25,0.0082],[-13,0.0125],[-4,0.0162],[2,0.0178],[6,0.018],[11,0.0168],[17,0.0132],[24,0.0085],[31,0.0045],[39,0.002],[49,0.0007],[60,0.0001],[100,0]],
 [[-175,0.0001],[-150,0.0003],[-125,0.0006],[-100,0.001],[-80,0.0016],[-60,0.0027],[-40,0.0048],[-25,0.0086],[-13,0.0132],[-5,0.0172],[0,0.0188],[4,0.019],[9,0.0175],[15,0.0135],[22,0.0085],[29,0.0042],[37,0.0017],[47,0.0005],[100,0]],
 [[-175,0.0001],[-150,0.0003],[-125,0.0006],[-100,0.001],[-80,0.0016],[-60,0.0027],[-40,0.0047],[-25,0.0087],[-14,0.014],[-7,0.0195],[-3,0.0232],[0,0.024],[3,0.0228],[7,0.0185],[12,0.0118],[18,0.0058],[24,0.0022],[32,0.0006],[100,0]],
 [[-175,0.0001],[-150,0.0003],[-125,0.0006],[-100,0.001],[-80,0.0016],[-60,0.0027],[-40,0.0047],[-25,0.0085],[-14,0.0135],[-6,0.0185],[-1,0.0212],[2,0.0218],[6,0.0205],[11,0.0162],[17,0.0105],[23,0.0055],[30,0.0022],[39,0.0006],[100,0]],
 [[-175,0.0001],[-150,0.0003],[-125,0.0006],[-100,0.001],[-80,0.0016],[-60,0.0027],[-40,0.0048],[-25,0.0088],[-15,0.014],[-8,0.0198],[-4,0.024],[-1,0.0255],[2,0.0245],[6,0.0198],[11,0.0128],[16,0.0065],[22,0.0025],[30,0.0006],[100,0]]
];
const wmRavel3T = [
 [[-175,0.0001],[-150,0.0003],[-125,0.0006],[-100,0.001],[-80,0.0016],[-60,0.0026],[-40,0.0045],[-25,0.008],[-15,0.0125],[-7,0.019],[-1,0.027],[2,0.031],[4,0.0322],[7,0.029],[11,0.02],[16,0.01],[22,0.0035],[29,0.0008],[38,0.0001],[100,0]],
 [[-175,0.0001],[-150,0.0003],[-125,0.0006],[-100,0.001],[-80,0.0016],[-60,0.0027],[-40,0.0047],[-25,0.0083],[-15,0.0128],[-7,0.019],[-1,0.026],[2,0.0292],[4,0.03],[7,0.0272],[11,0.019],[16,0.0095],[22,0.0034],[29,0.0008],[38,0.0001],[100,0]],
 [[-175,0],[-160,0.0004],[-150,0.0012],[-143,0.0015],[-137,0.0013],[-130,0.0006],[-115,0.0008],[-100,0.0012],[-85,0.0016],[-70,0.0022],[-58,0.0038],[-50,0.005],[-42,0.0062],[-35,0.0072],[-28,0.0092],[-20,0.0122],[-12,0.0165],[-5,0.0205],[0,0.0212],[4,0.021],[9,0.0178],[15,0.0112],[21,0.0052],[28,0.0016],[37,0.0002],[100,0]],
 [[-175,0.0001],[-150,0.0003],[-125,0.0007],[-100,0.0012],[-80,0.0018],[-62,0.0025],[-48,0.0032],[-38,0.0042],[-28,0.0068],[-18,0.0108],[-9,0.0158],[-2,0.0192],[3,0.02],[8,0.0188],[14,0.0145],[20,0.0088],[27,0.0042],[35,0.0015],[45,0.0003],[100,0]],
 [[-175,0.0001],[-150,0.0003],[-125,0.0006],[-100,0.001],[-80,0.0016],[-60,0.0026],[-40,0.0046],[-25,0.0082],[-14,0.0132],[-6,0.0195],[-1,0.0245],[2,0.0262],[5,0.0258],[9,0.0215],[14,0.0138],[20,0.0065],[26,0.0022],[34,0.0005],[100,0]],
 [[-175,0.0001],[-150,0.0003],[-125,0.0006],[-100,0.001],[-80,0.0016],[-60,0.0026],[-40,0.0046],[-25,0.0082],[-13,0.0125],[-5,0.0165],[0,0.0188],[4,0.0192],[9,0.0178],[15,0.0135],[21,0.0082],[28,0.0038],[36,0.0013],[46,0.0002],[100,0]],
 [[-175,0.0001],[-150,0.0003],[-125,0.0007],[-100,0.0011],[-80,0.0017],[-60,0.0028],[-40,0.0048],[-25,0.0085],[-13,0.0132],[-5,0.018],[0,0.0205],[4,0.021],[9,0.0192],[15,0.0142],[21,0.0085],[28,0.0038],[36,0.0012],[46,0.0002],[100,0]],
 [[-175,0.0001],[-150,0.0003],[-125,0.0006],[-100,0.001],[-80,0.0016],[-60,0.0027],[-40,0.0047],[-25,0.0084],[-14,0.013],[-6,0.0185],[-1,0.0228],[2,0.0245],[5,0.0238],[9,0.0192],[14,0.0118],[20,0.0055],[26,0.0018],[34,0.0004],[100,0]]
];

// ---------------- LAYOUT (positions & styles only) ----------------
const TEAL = "#4fbcc4", SALMON = "#eb7a6e";
const normXDomain = [-183.5, 113.5];
const panels = [
 {t:csfRaw15T, s:csfRaw3T, xd:[-37.5,591.6], xr:[67,548], yd:[0,0.12], yr:[450,92.7], xt:rawXTicks, yt:rawYTicks, yf:".2f", row:0},
 {t:gmRaw15T, s:gmRaw3T, xd:[-31.7,594.7], xr:[631.4,1090], yd:[0,0.12], yr:[447.3,86], xt:rawXTicks, yt:rawYTicks, yf:".2f", row:0},
 {t:wmRaw15T, s:wmRaw3T, xd:[-31.6,609.5], xr:[1183.5,1635.7], yd:[0,0.25], yr:[455.7,89.3], xt:wmRawXTicks, yt:wmRawYTicks, yf:".2f", row:0, narrow:true},
 {t:csfWs15T, s:csfWs3T, xd:normXDomain, xr:[82.3,532], yd:[-0.00185,0.0367], yr:[955,600.7], xt:normXTicks, yt:normYTicks, yf:".3f", row:1},
 {t:gmWs15T, s:gmWs3T, xd:normXDomain, xr:[638,1086], yd:[-0.00185,0.0367], yr:[955,600.7], xt:normXTicks, yt:normYTicks, yf:".3f", row:1},
 {t:wmWs15T, s:wmWs3T, xd:normXDomain, xr:[1192.4,1641], yd:[-0.00185,0.0367], yr:[955,600.7], xt:normXTicks, yt:normYTicks, yf:".3f", row:1},
 {t:csfRavel15T, s:csfRavel3T, xd:normXDomain, xr:[95,539], yd:[-0.00175,0.0367], yr:[1457.3,1098.3], xt:normXTicks, yt:normYTicks, yf:".3f", row:2},
 {t:gmRavel15T, s:gmRavel3T, xd:normXDomain, xr:[644,1086], yd:[-0.00175,0.0367], yr:[1457.3,1098.3], xt:normXTicks, yt:normYTicks, yf:".3f", row:2},
 {t:wmRavel15T, s:wmRavel3T, xd:normXDomain, xr:[1191.5,1634.5], yd:[-0.00175,0.0367], yr:[1457.3,1098.3], xt:normXTicks, yt:normYTicks, yf:".3f", row:2}
];
const rowStyle = [
 {fs:24, fill:"#000", tick:5, ypad:5, xpad:6},
 {fs:27, fill:"#4d4d4d", tick:6, ypad:4.5, xpad:6},
 {fs:26.5, fill:"#4d4d4d", tick:6, ypad:6, xpad:8}
];

const svg = d3.select("#chart");
svg.append("rect").attr("width",1800).attr("height",1578).attr("fill","#fff");

panels.forEach(p => {
  const x = d3.scaleLinear().domain(p.xd).range(p.xr);
  const y = d3.scaleLinear().domain(p.yd).range(p.yr);
  const st = rowStyle[p.row];
  const g = svg.append("g");
  const line = d3.line().x(d => x(d[0])).y(d => y(d[1])).curve(d3.curveMonotoneX);
  const n = Math.max(p.t.length, p.s.length);
  const order = [];
  for (let i = 0; i < n; i++) {
    if (p.row === 0) { if (p.s[i]) order.push([p.s[i], SALMON]); }
    else { if (p.s[i]) order.push([p.s[i], SALMON]); if (p.t[i]) order.push([p.t[i], TEAL]); }
  }
  if (p.row === 0) p.t.forEach(c => order.push([c, TEAL]));
  order.forEach(([c, col]) => {
    g.append("path").attr("d", line(c)).attr("fill","none").attr("stroke",col)
      .attr("stroke-width",2.5).attr("stroke-linejoin","round");
  });
  const fs = p.narrow ? 23 : st.fs;
  const xa = g.append("g").attr("transform",`translate(0,${p.yr[0]})`)
    .call(d3.axisBottom(x).tickValues(p.xt).tickFormat(d3.format("d")).tickSize(st.tick).tickSizeOuter(0).tickPadding(st.xpad));
  const ya = g.append("g").attr("transform",`translate(${p.xr[0]},0)`)
    .call(d3.axisLeft(y).tickValues(p.yt).tickFormat(d3.format(p.yf)).tickSize(st.tick).tickSizeOuter(0).tickPadding(st.ypad));
  [xa, ya].forEach(a => {
    a.select(".domain").attr("stroke","#000").attr("stroke-width",2.8).attr("stroke-linecap","square");
    a.selectAll(".tick line").attr("stroke","#000").attr("stroke-width",2);
    a.selectAll(".tick text").attr("font-family","'Liberation Sans', Arial, sans-serif")
      .attr("font-size",fs).attr("fill",st.fill);
  });
});

// Column titles
const titleX = [298, 860, 1426];
tissueTitles.forEach((t,i) => {
  svg.append("text").attr("x",titleX[i]).attr("y",33).attr("text-anchor","middle")
    .attr("font-family","'Liberation Serif', 'Times New Roman', serif").attr("font-weight","bold")
    .attr("font-size",35).attr("fill","#000").text(t);
});

// Captions
const capLayout = [
  {tagX:822, tagW:53, nameX:893, nameW:83, y:555},
  {tagX:760, tagW:55, nameX:835, nameW:215, y:1065},
  {tagX:719, tagW:47, nameX:788, nameW:305, y:1563}
];
capLayout.forEach((c,i) => {
  svg.append("text").attr("x",c.tagX).attr("y",c.y)
    .attr("font-family","'Liberation Serif', 'Times New Roman', serif").attr("font-size",34)
    .attr("textLength",c.tagW).attr("lengthAdjust","spacingAndGlyphs").attr("fill","#222").text(captionTags[i]);
  svg.append("text").attr("x",c.nameX).attr("y",c.y)
    .attr("font-family","'Liberation Serif', 'Times New Roman', serif").attr("font-size",31)
    .attr("textLength",c.nameW).attr("lengthAdjust","spacingAndGlyphs").attr("fill","#222").text(captionNames[i]);
});

// Legend
const legendColors = ["#5ad7d2", "#df8a2e"];
const legendLayout = [{x:1608,y:1327,h:36,tx:1666,ty:1353},{x:1608,y:1370,h:34,tx:1672,ty:1398}];
legendLabels.forEach((l,i) => {
  const L = legendLayout[i];
  svg.append("rect").attr("x",L.x).attr("y",L.y).attr("width",37).attr("height",L.h)
    .attr("fill","none").attr("stroke",legendColors[i]).attr("stroke-width",3.5);
  svg.append("text").attr("x",L.tx).attr("y",L.ty).attr("font-family","Lato, 'Open Sans', sans-serif")
    .attr("font-size",22).attr("fill","#111").text(l);
});
</script>
</body></html>
